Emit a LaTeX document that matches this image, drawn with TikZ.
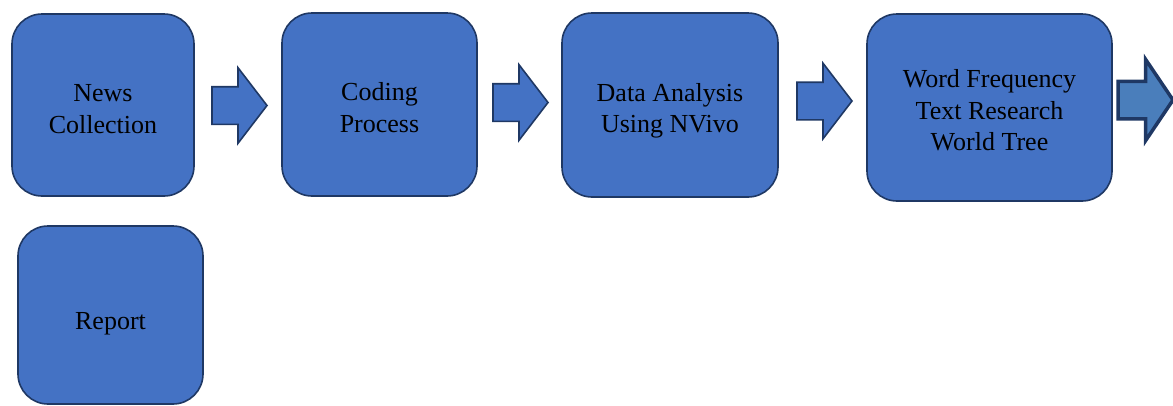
\documentclass[tikz,border=0pt]{standalone}
\usepackage{fontspec}
\setmainfont{Liberation Serif}
\usetikzlibrary{shapes.arrows}
\definecolor{boxblue}{HTML}{4472C4}
\definecolor{lastblue}{HTML}{4A7EBB}
\definecolor{edgeblue}{HTML}{1F3864}
\tikzset{
  stage/.style={draw=edgeblue,fill=boxblue,line width=1.6pt,rounded corners=30pt,inner sep=0pt},
  stagetext/.style={align=center,font=\fontsize{26}{31.5}\selectfont,inner sep=0pt},
  blockarrow/.style={shape=single arrow,draw=edgeblue,fill=boxblue,line width=1.6pt,
    inner xsep=0pt,inner ysep=18pt,text height=0pt,text depth=0pt,outer sep=0pt,anchor=tail,
    single arrow head extend=19pt,single arrow tip angle=105,minimum height=55pt}
}
\begin{document}
\begin{tikzpicture}[x=1pt,y=-1pt]
    \useasboundingbox (0,0) rectangle (1173,405);
    % stages
    \node [stage,minimum width=182pt,minimum height=182pt,
           label={[stagetext,yshift=-4pt]center:News\\Collection}] (news) at (103,105) {};
    \node [stage,minimum width=195pt,minimum height=183pt,
           label={[stagetext,yshift=-3pt]center:Coding\\Process}] (coding) at (379.5,104.5) {};
    \node [stage,minimum width=216pt,minimum height=184pt,
           label={[stagetext,yshift=-6pt]center:Data Analysis\\Using NVivo}] (nvivo) at (670,105) {};
    \node [stage,minimum width=245pt,minimum height=187pt,
           label={[stagetext,yshift=-3pt]center:Word Frequency\\Text Research\\World Tree}] (words) at (989.5,107.5) {};
    \node [stage,minimum width=185pt,minimum height=178pt,
           label={[stagetext,yshift=-9pt]center:Report}] (report) at (110.5,315) {};
    % arrows
    \node [blockarrow] (toCoding) at (212,105.5) {};
    \node [blockarrow] (toNvivo) at (493,102.5) {};
    \node [blockarrow] (toWords) at (797,101) {};
    \node [blockarrow,fill=lastblue,line width=3.5pt,inner ysep=17pt,single arrow head extend=22pt,single arrow tip angle=112] (toReport) at (1118,100) {};
\end{tikzpicture}
\end{document}
